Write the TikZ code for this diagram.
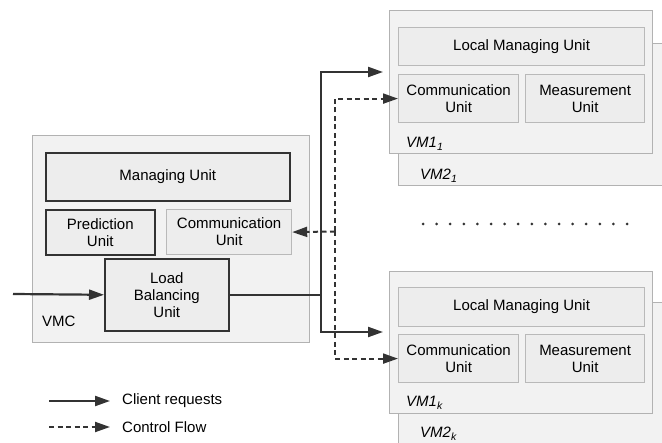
\documentclass[tikz,border=0pt]{standalone}
\usepackage{fontspec}
\setmainfont{Liberation Sans}
\usetikzlibrary{positioning,arrows.meta,calc}
\definecolor{ln}{HTML}{333333}
\tikzset{
  outer/.style={draw=gray!60, fill=gray!10, line width=1pt, anchor=north west, inner sep=0pt},
  unit/.style={draw=ln, fill=gray!14, line width=1.6pt, anchor=north west, inner sep=2pt, align=center, font=\fontsize{15}{17}\selectfont},
  lunit/.style={unit, draw=gray!55, line width=1.2pt},
  tag/.style={font=\fontsize{15}{17}\selectfont, anchor=base west, inner sep=0pt},
  cl/.style={-{Triangle[length=15pt,width=10pt]}, ln, line width=2.2pt},
  cf/.style={cl, line width=2pt, dash pattern=on 5pt off 3.5pt},
}
\begin{document}
\begin{tikzpicture}[x=1pt,y=-1pt]
\useasboundingbox (0,0) rectangle (662,443);
% VMC
\node[outer, minimum width=277pt, minimum height=207pt] (vmc) at (32,135) {};
\node[tag] (vmcl) at (42,327) {VMC};
\node[unit, minimum width=244pt, minimum height=48pt] (mu) at (45,152) {Managing Unit};
\node[unit, minimum width=109pt, minimum height=45pt] (pu) at (45,209) {Prediction\\Unit};
\node[lunit, minimum width=125pt, minimum height=45pt] (cu) at (166,209) {Communication\\Unit};
\node[unit, minimum width=124pt, minimum height=72pt] (lb) at (104,258) {Load\\Balancing\\Unit};
% first VM group
\node[outer, minimum width=265pt, minimum height=142pt] (vm21) at (398,43) {};
\node[tag] (vm21l) at (420,180) {\itshape VM2\textsubscript{1}};
\node[outer, minimum width=263pt, minimum height=143pt] (vm11) at (389,10) {};
\node[tag] (vm11l) at (406,148) {\itshape VM1\textsubscript{1}};
\node[lunit, minimum width=246pt, minimum height=38pt] (lm1) at (398,27) {Local Managing Unit};
\node[lunit, minimum width=120pt, minimum height=48pt] (cu1) at (398,74) {Communication\\Unit};
\node[lunit, minimum width=119pt, minimum height=48pt] (me1) at (525,74) {Measurement\\Unit};
% second VM group
\node[outer, minimum width=265pt, minimum height=150pt] (vm2k) at (398,302) {};
\node[tag] (vm2kl) at (420,438) {\itshape VM2\textsubscript{k}};
\node[outer, minimum width=263pt, minimum height=142pt] (vm1k) at (389,271) {};
\node[tag] (vm1kl) at (406,407) {\itshape VM1\textsubscript{k}};
\node[lunit, minimum width=246pt, minimum height=39pt] (lmk) at (398,287) {Local Managing Unit};
\node[lunit, minimum width=120pt, minimum height=48pt] (cuk) at (398,334) {Communication\\Unit};
\node[lunit, minimum width=119pt, minimum height=48pt] (mek) at (525,334) {Measurement\\Unit};
% dots
\foreach \i in {0,...,15}
  \fill[ln] (423+13.6*\i,224) circle (1.5pt);
% client requests
\coordinate (in) at (13,294);
\coordinate (t1) at (383,72);
\coordinate (tk) at (383,332);
\draw[cl] (in) -- (lb.west);
\draw[cl] (lb.east) -- ++(91,0) |- (t1);
\draw[cl] (lb.east) -- ++(91,0) |- (tk);
% control flow
\coordinate (dj) at (335,231.5);
\draw[cf] (dj) |- (cu1.west);
\draw[cf] (dj) |- (cuk.west);
\draw[cf] (dj) -- (cu.east);
% legend
\node[font=\fontsize{15}{17}\selectfont, anchor=west, inner sep=0pt] (lg1) at (122,401) {Client requests};
\node[font=\fontsize{15}{17}\selectfont, anchor=west, inner sep=0pt] (lg2) at (122,427) {Control Flow};
\coordinate[left=61pt of lg1.west, xshift=-12pt] (a1);
\coordinate[left=61pt of lg2.west, xshift=-12pt] (a2);
\draw[cl] (a1) -- ([xshift=-12pt]lg1.west);
\draw[cf] (a2) -- ([xshift=-12pt]lg2.west);
\end{tikzpicture}
\end{document}
